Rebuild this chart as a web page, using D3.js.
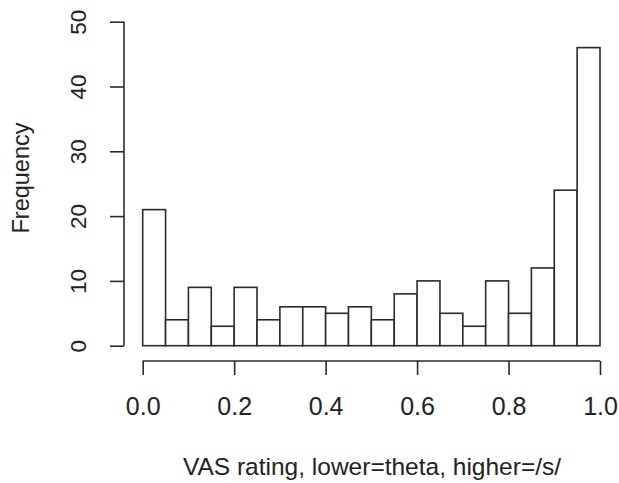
<!DOCTYPE html>
<html>
<head>
<meta charset="utf-8">
<script src="https://cdn.jsdelivr.net/npm/d3@7"></script>
<style>
  body { margin: 0; background: #fff; }
  text { font-family: "Liberation Sans", Arial, sans-serif; fill: #222; }
</style>
</head>
<body>
<div id="chart"></div>
<script>
// Histogram data: bin edges every 0.05 from 0 to 1
const binStarts = [0.00, 0.05, 0.10, 0.15, 0.20, 0.25, 0.30, 0.35, 0.40, 0.45,
                   0.50, 0.55, 0.60, 0.65, 0.70, 0.75, 0.80, 0.85, 0.90, 0.95];
const counts = [21, 4, 9, 3, 9, 4, 6, 6, 5, 6, 4, 8, 10, 5, 3, 10, 5, 12, 24, 46];
const binWidth = 0.05;
const xTicks = [0, 0.2, 0.4, 0.6, 0.8, 1.0];
const yTicks = [0, 10, 20, 30, 40, 50];

const width = 619, height = 483;

const svg = d3.select("#chart")
    .append("svg")
    .attr("width", width)
    .attr("height", height);

const x = d3.scaleLinear().domain([0, 1]).range([142.7, 600]);
const y = d3.scaleLinear().domain([0, 50]).range([345.7, 21.7]);

const ink = "#2a2a2a";

// Bars
svg.selectAll("rect.bar")
    .data(counts)
    .enter()
    .append("rect")
    .attr("class", "bar")
    .attr("x", (d, i) => x(binStarts[i]))
    .attr("y", d => y(d))
    .attr("width", (d, i) => x(binStarts[i] + binWidth) - x(binStarts[i]))
    .attr("height", d => y(0) - y(d))
    .attr("fill", "#fff")
    .attr("stroke", ink)
    .attr("stroke-width", 1.6);

// X axis (offset below bars, R style)
const xAxis = svg.append("g")
    .attr("transform", "translate(0,361)")
    .call(d3.axisBottom(x).tickValues(xTicks).tickFormat(d3.format(".1f"))
        .tickSize(14).tickPadding(22));
xAxis.select(".domain").attr("d", `M${x(0)},0H${x(1)}`);
xAxis.selectAll("path, line").attr("stroke", ink).attr("stroke-width", 1.6);
xAxis.selectAll("text").attr("font-size", 25).style("font-family", "Liberation Sans, Arial, sans-serif").attr("fill", "#222");

// Y axis
const yAxis = svg.append("g")
    .attr("transform", "translate(124,0)")
    .call(d3.axisLeft(y).tickValues(yTicks).tickSize(14).tickPadding(10));
yAxis.select(".domain").attr("d", `M0,${y(0)}V${y(50)}`);
yAxis.selectAll("path, line").attr("stroke", ink).attr("stroke-width", 1.6);
yAxis.selectAll(".tick text")
    .attr("font-size", 22.5)
    .style("font-family", "Liberation Sans, Arial, sans-serif")
    .attr("fill", "#222")
    .attr("text-anchor", "middle")
    .attr("dy", null)
    .attr("x", 0)
    .attr("y", 0)
    .attr("transform", "translate(-38,0) rotate(-90)");

// Axis titles
svg.append("text")
    .attr("x", 372)
    .attr("y", 475)
    .attr("text-anchor", "middle")
    .attr("font-size", 24.5)
    .text("VAS rating, lower=theta, higher=/s/");

svg.append("text")
    .attr("transform", "translate(29,178) rotate(-90)")
    .attr("text-anchor", "middle")
    .attr("font-size", 23.5)
    .text("Frequency");
</script>
</body>
</html>
